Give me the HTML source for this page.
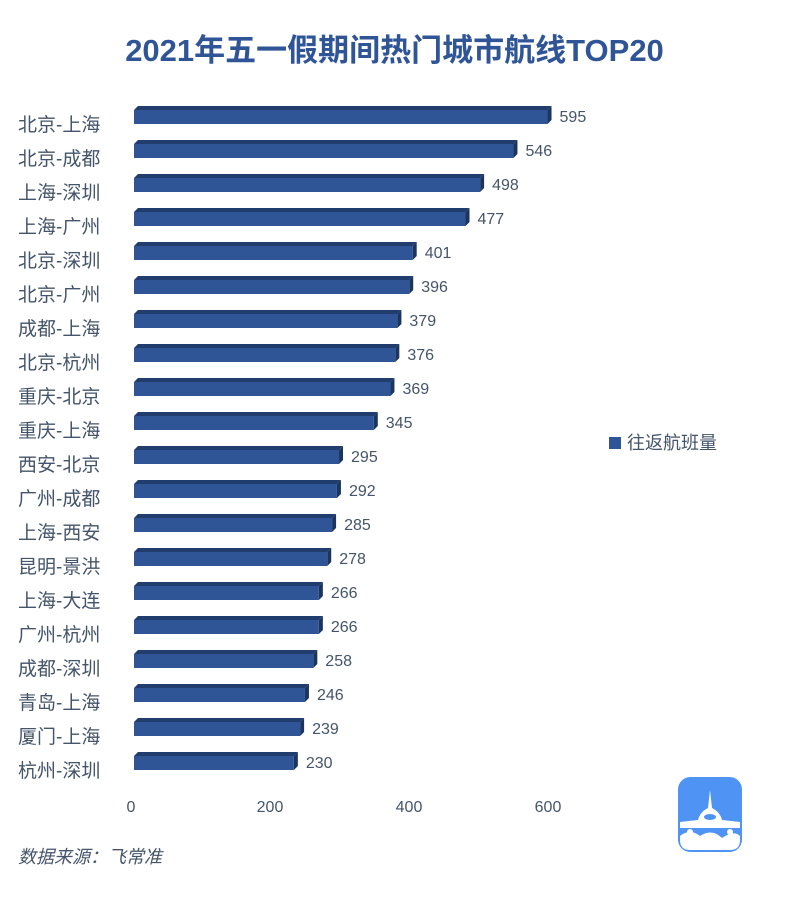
<!DOCTYPE html>
<html><head><meta charset="utf-8"><style>
body{margin:0;width:789px;height:897px;background:#fff;font-family:"Liberation Sans","Noto Sans CJK SC",sans-serif;position:relative;overflow:hidden}
.t{position:absolute;white-space:nowrap}
</style></head><body>
<div class="t" style="left:0;width:789px;text-align:center;top:25px;font-size:31px;font-weight:bold;color:#2f5597">2021年五一假期间热门城市航线TOP20</div>
<svg width="789" height="897" style="position:absolute;left:0;top:0" font-family="Liberation Sans, Noto Sans CJK SC, sans-serif">
<g id="bars"></g>
<text x="131" y="812" font-size="16" fill="#44546a" text-anchor="middle">0</text>
<text x="270" y="812" font-size="16" fill="#44546a" text-anchor="middle">200</text>
<text x="409" y="812" font-size="16" fill="#44546a" text-anchor="middle">400</text>
<text x="548" y="812" font-size="16" fill="#44546a" text-anchor="middle">600</text>
<rect x="609" y="437" width="12" height="12" fill="#2f5597"/>
<text x="627" y="449" font-size="18" fill="#44546a">往返航班量</text>
<text x="18" y="863" font-size="18" fill="#44546a" font-style="italic">数据来源：飞常准</text>
<rect x="678.5" y="777.5" width="63" height="74" rx="12" fill="#4f94f5" stroke="#4f94f5"/>
<path d="M680 836 Q690 828 700 836 Q712 828 722 838 Q734 830 740 836 L740 840 Q740 850 730 850 L690 850 Q680 850 680 840Z" fill="#fff"/>
<path d="M710 790 L712 808 Q720 812 722 820 L740 822 L740 828 L680 828 L680 822 L698 820 Q700 812 708 808Z" fill="#fff"/>
<ellipse cx="710" cy="817" rx="6" ry="3" fill="#4f94f5"/>
<circle cx="690" cy="832" r="3" fill="#fff"/><circle cx="730" cy="832" r="3" fill="#fff"/>
</svg>
<script>
var d=[["北京-上海",595],["北京-成都",546],["上海-深圳",498],["上海-广州",477],["北京-深圳",401],["北京-广州",396],["成都-上海",379],["北京-杭州",376],["重庆-北京",369],["重庆-上海",345],["西安-北京",295],["广州-成都",292],["上海-西安",285],["昆明-景洪",278],["上海-大连",266],["广州-杭州",266],["成都-深圳",258],["青岛-上海",246],["厦门-上海",239],["杭州-深圳",230]];
var g=document.getElementById('bars'),s='';
d.forEach(function(r,i){var cy=115+i*34,w=r[1]*0.695,x=134;
s+='<polygon points="'+(x)+','+(cy-5)+' '+(x+4)+','+(cy-9)+' '+(x+w+4)+','+(cy-9)+' '+(x+w)+','+(cy-5)+'" fill="#203d6e"/>';
s+='<polygon points="'+(x+w)+','+(cy-5)+' '+(x+w+4)+','+(cy-9)+' '+(x+w+4)+','+(cy+5)+' '+(x+w)+','+(cy+9)+'" fill="#1c3560"/>';
s+='<rect x="'+x+'" y="'+(cy-5)+'" width="'+w+'" height="14" fill="#2f5597"/>';
s+='<text x="'+(x+w+12)+'" y="'+(cy+7)+'" font-size="16" fill="#44546a">'+r[1]+'</text>';
s+='<text x="18" y="'+(cy+16)+'" font-size="19" fill="#44546a">'+r[0]+'</text>';});
g.innerHTML=s;
</script>
</body></html>
